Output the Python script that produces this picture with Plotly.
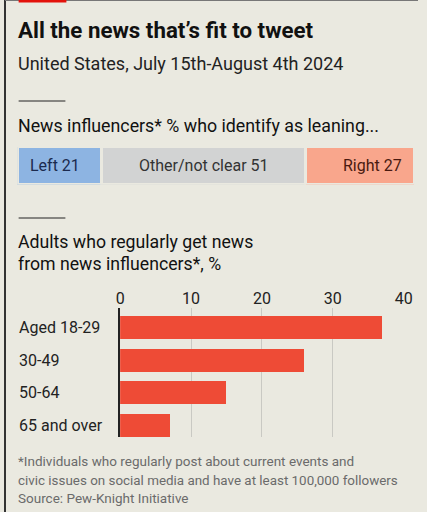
import plotly.graph_objects as go

# %%
W, H = 427, 512
BG = "#EAE9E0"

lean_labels = ["Left", "Other/not clear", "Right"]
lean_values = [21, 51, 27]
lean_colors = ["#8DB4E2", "#D2D3D3", "#F9A68C"]
lean_text_colors = ["#1B2A4E", "#333333", "#4A1A10"]

ages = ["Aged 18-29", "30-49", "50-64", "65 and over"]
age_values = [37, 26, 15, 7]
x_ticks = [0, 10, 20, 30, 40]


def px_x(p):
    # the page comes out slightly squeezed sideways, so compensate
    return max(0.0, min(1.0, (p - 3.3) / 0.972 / W))


def px_y(p):
    return 1 - p / H


fig = go.Figure()

# stacked leaning bar
for lab, val, col in zip(lean_labels, lean_values, lean_colors):
    fig.add_trace(go.Bar(
        y=[0], x=[val], orientation="h", width=1,
        marker=dict(color=col, line=dict(color=BG, width=3)),
        xaxis="x2", yaxis="y2", hoverinfo="skip", showlegend=False,
    ))

# age bars
fig.add_trace(go.Bar(
    y=list(range(len(ages))), x=age_values, orientation="h", width=0.7,
    marker=dict(color="#EE4B36", line=dict(width=0)),
    xaxis="x", yaxis="y", hoverinfo="skip", showlegend=False,
))

ann = []
# text inside stacked bar
cum = 0
for i, (lab, val) in enumerate(zip(lean_labels, lean_values)):
    if i == 0:
        xa, xp = "left", cum + 2.6
    elif i == len(lean_labels) - 1:
        xa, xp = "right", cum + val - 2.6
    else:
        xa, xp = "center", cum + val / 2
    ann.append(dict(x=xp, y=0, xref="x2", yref="y2", xanchor=xa, yanchor="middle",
                    text=f"{lab} {val}", showarrow=False,
                    font=dict(size=16, color=lean_text_colors[i])))
    cum += val

# category labels
for i, a in enumerate(ages):
    ann.append(dict(x=px_x(15), y=i, xref="paper", yref="y", xanchor="left",
                    yanchor="middle", text=a, showarrow=False,
                    font=dict(size=16, color="#222222")))

texts = [
    ("<b>All the news that’s fit to tweet</b>", 30, 22.3, "#111111"),
    ("United States, July 15th-August 4th 2024", 63, 18, "#222222"),
    ("News influencers* % who identify as leaning...", 125, 17.8, "#111111"),
    ("Adults who regularly get news", 242, 17.7, "#111111"),
    ("from news influencers*, %", 264, 17.7, "#111111"),
    ("*Individuals who regularly post about current events and", 461, 13.5, "#6B6B6B"),
    ("civic issues on social media and have at least 100,000 followers", 480, 13.4, "#6B6B6B"),
    ("Source: Pew-Knight Initiative", 498, 13.5, "#6B6B6B"),
]
for t, y, s, c in texts:
    ann.append(dict(x=px_x(14), y=px_y(y), xref="paper", yref="paper",
                    xanchor="left", yanchor="middle", text=t, showarrow=False,
                    font=dict(size=s, color=c)))

shapes = [
    dict(type="line", xref="paper", yref="paper", x0=0, x1=0,
         y0=0, y1=1, line=dict(color="#333333", width=2)),
    dict(type="line", xref="paper", yref="paper", x0=0, x1=1,
         y0=px_y(0.5), y1=px_y(0.5), line=dict(color="#777777", width=1)),
    dict(type="rect", xref="paper", yref="paper", x0=px_x(17), x1=px_x(65),
         y0=px_y(2.5), y1=1, fillcolor="#E3120B", line=dict(width=0)),
    dict(type="line", xref="paper", yref="paper", x0=px_x(17), x1=px_x(64),
         y0=px_y(101), y1=px_y(101), line=dict(color="#222222", width=1)),
    dict(type="line", xref="paper", yref="paper", x0=px_x(17), x1=px_x(64),
         y0=px_y(218), y1=px_y(218), line=dict(color="#222222", width=1)),
]

fig.update_layout(
    autosize=True, height=H,
    margin=dict(l=0, r=0, t=0, b=0),
    paper_bgcolor=BG, plot_bgcolor=BG,
    font=dict(family="Roboto", color="#222222"),
    barmode="stack",
    annotations=ann, shapes=shapes,
    xaxis=dict(domain=[px_x(119), px_x(404)], range=[0, 40], side="top",
               tickvals=x_ticks, showgrid=True, gridcolor="#C9C9C3", gridwidth=1,
               zeroline=False, showline=False, ticks="",
               tickfont=dict(size=16, color="#222222"), fixedrange=True),
    yaxis=dict(domain=[px_y(437), px_y(308)], range=[3.35, -0.6],
               showticklabels=False, showgrid=False, zeroline=False,
               showline=True, linecolor="#222222", linewidth=1.5, fixedrange=True),
    xaxis2=dict(domain=[px_x(15.5), px_x(414.5)], range=[0, sum(lean_values)],
                visible=False, fixedrange=True),
    yaxis2=dict(domain=[px_y(184.5), px_y(146.5)], range=[-0.5, 0.5],
                visible=False, fixedrange=True),
)

fig.write_html(
    "out.html",
    config={"displayModeBar": False, "responsive": True},
    default_width="100%",
    default_height=f"{H}px",
    post_script="document.documentElement.style.background='" + BG + "';"
                "document.body.style.margin='0';"
                "document.body.style.overflow='hidden';"
                "document.body.style.background='" + BG + "';"
                "window.dispatchEvent(new Event('resize'));",
)
